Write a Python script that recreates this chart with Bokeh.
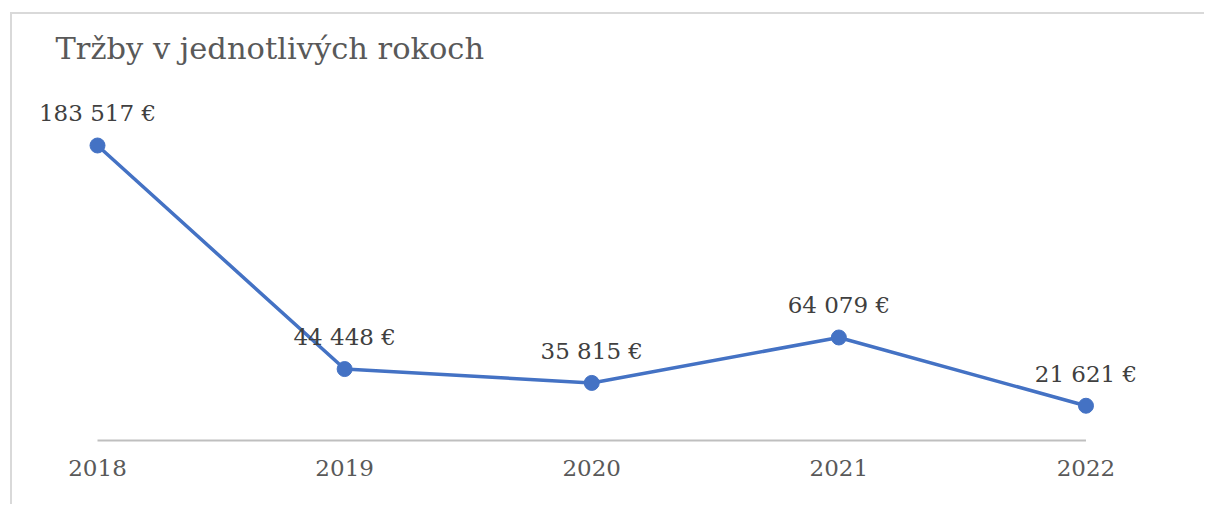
from bokeh.plotting import figure
from bokeh.models import FixedTicker, ColumnDataSource, Label
from bokeh.core.properties import value
from bokeh.embed import file_html
from bokeh.resources import INLINE

# ---- data ----
years = [2018, 2019, 2020, 2021, 2022]
sales = [183517, 44448, 35815, 64079, 21621]
year_labels = [str(y) for y in years]
value_labels = [f"{v:,}".replace(",", " ") + " €" for v in sales]
title_text = "Tržby v jednotlivých rokoch"

FONT = "DejaVu Serif"
BLUE = "#4472C4"

src = ColumnDataSource(dict(x=years, y=sales, lbl=value_labels))

p = figure(
    width=1194, height=492,
    x_range=(2017.656, 2022.4877),
    y_range=(-4977, 265011),
    output_backend="svg", toolbar_location=None,
    min_border_left=0, min_border_right=0,
    min_border_top=0, min_border_bottom=58,
)
p.styles = {"border-top": "2px solid #d9d9d9", "border-left": "2px solid #d9d9d9",
            "margin-left": "10px", "margin-top": "12px"}

p.add_layout(Label(x=43, y=400, x_units="screen", y_units="screen", text=title_text,
                   text_font=FONT, text_font_size="30.5px", text_color="#595959",
                   text_baseline="alphabetic", text_align="left"))

p.grid.visible = False
p.yaxis.visible = False
p.outline_line_color = None
p.background_fill_color = "white"
p.border_fill_color = "white"

xa = p.xaxis[0]
xa.ticker = FixedTicker(ticks=years)
xa.major_label_overrides = {y: s for y, s in zip(years, year_labels)}
xa.axis_line_color = None
xa.major_tick_line_color = None
xa.minor_tick_line_color = None
xa.major_label_text_font = FONT
xa.major_label_text_font_size = "23px"
xa.major_label_text_color = "#595959"
xa.major_label_standoff = 5

# category axis line between first and last year
p.segment(x0=years[0], y0=0, x1=years[-1], y1=0, line_color="#bfbfbf", line_width=2)

p.line("x", "y", source=src, line_color=BLUE, line_width=3.5)
p.scatter("x", "y", source=src, size=15, fill_color=BLUE, line_color=BLUE)
p.text("x", "y", text="lbl", source=src, text_align="center", text_baseline="middle",
       y_offset=-32, text_font=value(FONT), text_font_size="23px", text_color="#404040")

open("out.html", "w").write(file_html(p, INLINE))
